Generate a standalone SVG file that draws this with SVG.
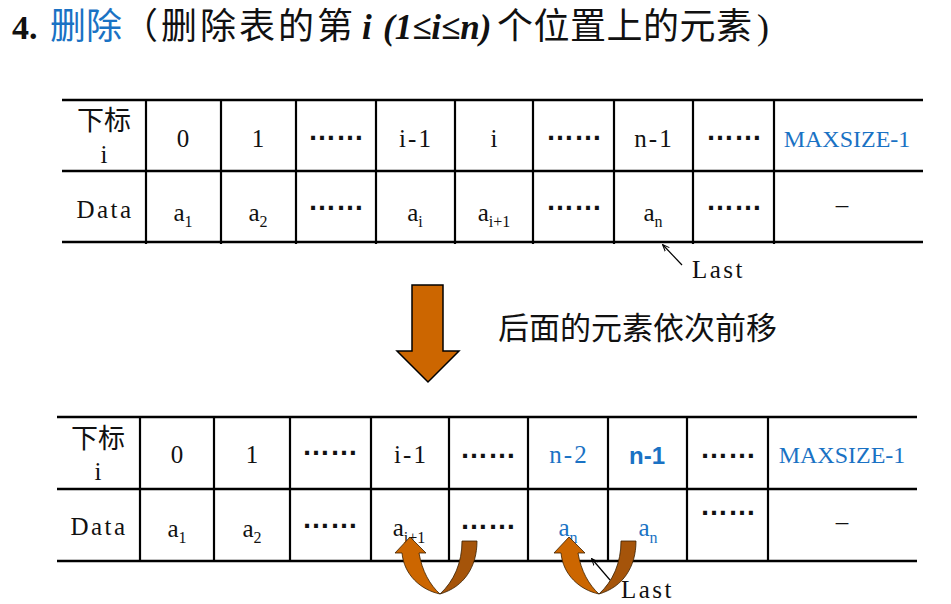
<svg xmlns="http://www.w3.org/2000/svg" width="951" height="604" viewBox="0 0 951 604">
<defs>
<style>
.bg{fill:#ffffff}
.grid{stroke:#000;stroke-width:2.5;fill:none}
.vgrid{stroke:#000;stroke-width:2.2;fill:none}
.cell{font-family:"Liberation Serif","Times New Roman",serif;font-size:25px;fill:#111;text-anchor:middle}
.word{letter-spacing:2.5px}
.idx{letter-spacing:2px}
.max{font-size:24px}
.left{text-anchor:start}
.blue{fill:#1a72c4}
.cjk{font-family:"Noto Sans CJK SC",sans-serif;fill:#111}
.sub{font-size:16px}
.dots{font-family:"Liberation Sans",Arial,sans-serif;font-weight:bold;font-size:28px;fill:#111;text-anchor:middle}
.bold{font-family:"Liberation Sans",Arial,sans-serif;font-weight:bold;font-size:24px}
.ttl{font-family:"Noto Sans CJK SC",sans-serif;font-size:36px;fill:#111}
.ttlBlue{fill:#1a72c4}
.ser{font-family:"Liberation Serif","Times New Roman",serif;fill:#111}
.thin{stroke:#000;stroke-width:1.2;fill:none}
.uLight{fill:#cc6600;stroke:#3a2000;stroke-width:0.8}
.uDark{fill:#a5540a;stroke:#3a2000;stroke-width:0.8}
</style>
<marker id="ah" viewBox="0 0 10 10" refX="9" refY="5" markerWidth="7" markerHeight="7" orient="auto" markerUnits="userSpaceOnUse">
<path d="M0,1 L10,5 L0,9" fill="none" stroke="#000" stroke-width="1.5"/>
</marker>
<g id="uturn">
<path class="uLight" d="M410,537 L426,553 L419,553 C422,571 430,585 440,594 C421,590 404,575 402,553 L395,553 Z"/>
<path class="uDark" d="M462,541 L477,541 C477,567 464,587 440,594 C454,581 462,563 462,541 Z"/>
</g>
</defs>
<rect class="bg" x="0" y="0" width="951" height="604"/>

<g id="title">
<text class="ser" x="12" y="39" font-weight="bold" font-size="34">4.</text>
<text class="ttl ttlBlue" x="50" y="39">删除</text>
<text class="ttl" x="122" y="39" letter-spacing="3">（删除表的第</text>
<text class="ser" x="362" y="39" font-weight="bold" font-style="italic" font-size="35">i</text>
<text class="ser" x="383" y="39" font-weight="bold" font-style="italic" font-size="35">(1≤i≤n)</text>
<text class="ttl" x="497" y="39" letter-spacing="0.5">个位置上的元素</text>
<text class="ser" x="757" y="39" font-size="36">)</text>
</g>

<g id="table-before">
<g id="grid-before">
<line class="grid" x1="62" y1="100" x2="923" y2="100"/>
<line class="grid" x1="62" y1="171" x2="923" y2="171"/>
<line class="grid" x1="62" y1="242" x2="923" y2="242"/>
<path class="vgrid" d="M146,100V244M221,100V244M296,100V244M376,100V244M455,100V244M533,100V244M614,100V244M693,100V244M774,100V244"/>
</g>
<g id="b-head">
<text class="cjk" x="104" y="130" font-size="27" text-anchor="middle">下标</text>
<text class="cell" x="104" y="163">i</text>
<text class="cell word" x="105" y="218">Data</text>
</g>
<g id="b-c0"><text class="cell" x="183" y="147">0</text><text class="cell" x="183" y="221">a<tspan class="sub" dy="6">1</tspan></text></g>
<g id="b-c1"><text class="cell" x="258" y="147">1</text><text class="cell" x="258" y="221">a<tspan class="sub" dy="6">2</tspan></text></g>
<g id="b-c2"><text class="dots" x="336" y="140">……</text><text class="dots" x="336" y="210">……</text></g>
<g id="b-c3"><text class="cell idx" x="416" y="147">i-1</text><text class="cell" x="415" y="221">a<tspan class="sub" dy="6">i</tspan></text></g>
<g id="b-c4"><text class="cell" x="494" y="147">i</text><text class="cell" x="494" y="221">a<tspan class="sub" dy="6">i+1</tspan></text></g>
<g id="b-c5"><text class="dots" x="574" y="140">……</text><text class="dots" x="574" y="210">……</text></g>
<g id="b-c6"><text class="cell idx" x="654" y="147">n-1</text><text class="cell" x="653" y="221">a<tspan class="sub" dy="6">n</tspan></text></g>
<g id="b-c7"><text class="dots" x="734" y="140">……</text><text class="dots" x="734" y="210">……</text></g>
<g id="b-c8"><text class="cell max blue" x="847" y="147">MAXSIZE-1</text><text class="cell" x="842" y="213">–</text></g>
<text id="last-before" class="cell left word" x="692" y="278">Last</text>
</g>

<g id="shift-arrow">
<path d="M412,285 H443 V351 H459 L428,382 L397,351 H412 Z" fill="#cc6600" stroke="#000" stroke-width="1.5"/>
<text class="cjk" x="498" y="339" font-size="31">后面的元素依次前移</text>
</g>

<g id="table-after">
<g id="grid-after">
<line class="grid" x1="57" y1="417" x2="917" y2="417"/>
<line class="grid" x1="57" y1="489" x2="917" y2="489"/>
<line class="grid" x1="57" y1="561" x2="917" y2="561"/>
<path class="vgrid" d="M140,417V561M214,417V561M290,417V561M371,417V561M449,417V561M528,417V561M608,417V561M687,417V561M768,417V561"/>
</g>
<g id="a-head">
<text class="cjk" x="98" y="448" font-size="27" text-anchor="middle">下标</text>
<text class="cell" x="98" y="480">i</text>
<text class="cell word" x="99" y="535">Data</text>
</g>
<g id="a-c0"><text class="cell" x="177" y="463">0</text><text class="cell" x="177" y="537">a<tspan class="sub" dy="6">1</tspan></text></g>
<g id="a-c1"><text class="cell" x="252" y="463">1</text><text class="cell" x="252" y="537">a<tspan class="sub" dy="6">2</tspan></text></g>
<g id="a-c2"><text class="dots" x="330" y="455">……</text><text class="dots" x="330" y="528">……</text></g>
<g id="a-c3"><text class="cell idx" x="411" y="463">i-1</text><text class="cell" x="409" y="536">a<tspan class="sub" dy="7">i+1</tspan></text></g>
<g id="a-c4"><text class="dots blue" x="488" y="458">……</text><text class="dots blue" x="488" y="529">……</text></g>
<g id="a-c5"><text class="cell idx blue" x="569" y="463">n-2</text><text class="cell blue" x="568" y="536">a<tspan class="sub" dy="7">n</tspan></text></g>
<g id="a-c6"><text class="cell bold blue" x="647" y="464">n-1</text><text class="cell blue" x="648" y="536">a<tspan class="sub" dy="7">n</tspan></text></g>
<g id="a-c7"><text class="dots blue" x="728" y="458">……</text><text class="dots blue" x="728" y="515">……</text></g>
<g id="a-c8"><text class="cell max blue" x="842" y="463">MAXSIZE-1</text><text class="cell" x="842" y="530">–</text></g>
<text id="last-after" class="cell left word" x="621" y="598">Last</text>
</g>

<g id="connectors">
<line class="thin" x1="682" y1="265" x2="663" y2="245" marker-end="url(#ah)"/>
<line class="thin" x1="610" y1="580" x2="592" y2="559" marker-end="url(#ah)"/>
<use href="#uturn"/>
<use href="#uturn" transform="translate(159,0)"/>
</g>
</svg>
